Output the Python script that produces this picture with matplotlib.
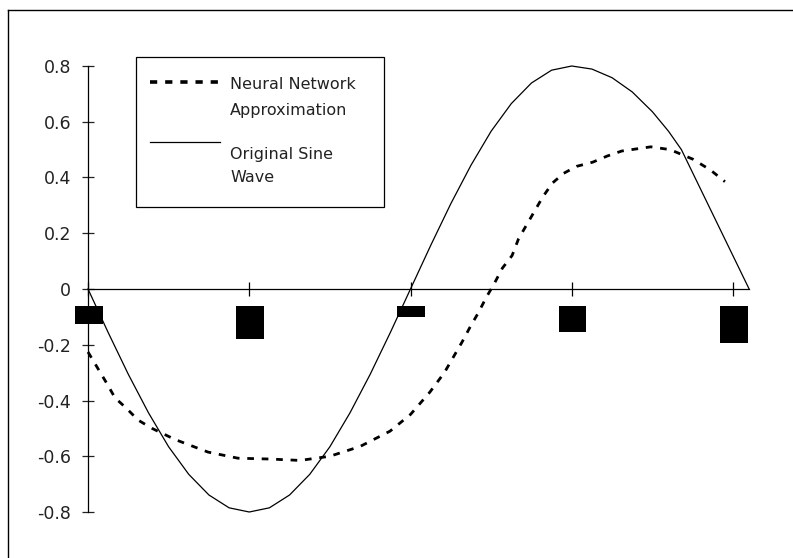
import numpy as np
import matplotlib
matplotlib.use("Agg")
from matplotlib import pyplot as plt
from matplotlib.lines import Line2D
from matplotlib.patches import Rectangle

# original sine wave (x in tick units, 4 ticks = one period)
sine_x = [0, 0.125, 0.25, 0.375, 0.5, 0.625, 0.75, 0.875, 1.0, 1.125, 1.25,
          1.375, 1.5, 1.625, 1.75, 1.875, 2.0, 2.125, 2.25, 2.375, 2.5,
          2.625, 2.75, 2.875, 3.0, 3.125, 3.25, 3.375, 3.5, 3.6, 3.68, 4.1]
sine_y = [0, -0.156, -0.306, -0.444, -0.566, -0.665, -0.739, -0.785, -0.80,
          -0.785, -0.739, -0.665, -0.566, -0.444, -0.306, -0.156, 0.0, 0.156,
          0.306, 0.444, 0.566, 0.665, 0.739, 0.785, 0.80, 0.789, 0.758,
          0.707, 0.636, 0.566, 0.50, 0.0]

# neural network approximation
nn_x = [0, 0.056, 0.118, 0.167, 0.242, 0.31, 0.397, 0.54, 0.744, 0.93,
        1.129, 1.315, 1.50, 1.687, 1.873, 2.0, 2.12, 2.21, 2.32, 2.37,
        2.42, 2.47, 2.52, 2.57, 2.63, 2.67, 2.72, 2.77, 2.82, 2.88, 2.95,
        3.03, 3.13, 3.22, 3.31, 3.49, 3.61, 3.75, 3.86, 3.95]
nn_y = [-0.226, -0.28, -0.34, -0.39, -0.43, -0.47, -0.50, -0.54, -0.585,
        -0.607, -0.61, -0.615, -0.60, -0.565, -0.51, -0.45, -0.37, -0.30,
        -0.19, -0.136, -0.086, -0.03, 0.02, 0.075, 0.12, 0.18, 0.23, 0.28,
        0.33, 0.38, 0.415, 0.44, 0.455, 0.477, 0.495, 0.51, 0.50, 0.466,
        0.427, 0.385]

# category ticks and the black blocks where their labels should be
x_ticks = [0, 1, 2, 3, 4]
box_top = -0.061
box_bottom = [-0.126, -0.179, -0.10, -0.154, -0.194]

y_ticks = [0.8, 0.6, 0.4, 0.2, 0, -0.2, -0.4, -0.6, -0.8]
y_labels = ["0.8", "0.6", "0.4", "0.2", "0", "-0.2", "-0.4", "-0.6", "-0.8"]

nn_label = ["Neural Network", "Approximation"]
sine_label = ["Original Sine", "Wave"]

plt.rcParams['font.family'] = ['DejaVu Sans']

W, H = 793, 558
fig = plt.figure(figsize=(W / 100, H / 100), dpi=100)
ax = fig.add_axes([0, 0, 1, 1])

# pixel layout: x=0 at px 88, 161.25 px per unit; y=0 at px 289, 278.75 px per unit
ax.set_xlim(-88 / 161.25, (W - 88) / 161.25)
ax.set_ylim(-(H - 289) / 278.75, 289 / 278.75)
ax.patch.set_alpha(0)

nn_style = dict(color="black", lw=2.0, linestyle=(0, (2.4, 2.8)))
sine_style = dict(color="black", lw=0.9)
ax.plot(nn_x, nn_y, **nn_style)
ax.plot(sine_x, sine_y, **sine_style)

heights = [b - box_top for b in box_bottom]
ax.bar([x + 0.005 for x in x_ticks], heights, bottom=box_top, width=0.172,
       color="black")

for s in ["top", "right"]:
    ax.spines[s].set_visible(False)
ax.spines["left"].set_position(("data", 0))
ax.spines["bottom"].set_position(("data", 0))
ax.spines["left"].set_bounds(-0.8, 0.8)
ax.spines["bottom"].set_bounds(0, 4.1)
ax.spines["left"].set_linewidth(0.9)
ax.spines["bottom"].set_linewidth(0.9)

ax.set_yticks(y_ticks)
ax.set_yticklabels(y_labels)
ax.set_xticks(x_ticks)
ax.set_xticklabels([])
ax.tick_params(axis="y", direction="inout", length=8, width=0.9,
               labelsize=12.5, pad=8, colors="#222222")
ax.tick_params(axis="x", direction="inout", length=10, width=0.9)


def fx(px):
    return px / W


def fy(py):
    return 1 - py / H


# legend box drawn by hand to match the old layout
fig.add_artist(Rectangle((fx(136), fy(207)), fx(248), 150 / H, fill=False,
                         edgecolor="black", lw=0.9, transform=fig.transFigure))
fig.add_artist(Line2D([fx(150), fx(220)], [fy(82), fy(82)],
                      transform=fig.transFigure, color="black", lw=2.6,
                      linestyle=(0, (2.0, 2.2))))
fig.add_artist(Line2D([fx(150), fx(220)], [fy(142), fy(142)],
                      transform=fig.transFigure, **sine_style))
for txt, py in zip(nn_label + sine_label, [85, 111, 155, 178]):
    fig.text(fx(230), fy(py), txt, fontsize=11.5, va="center", ha="left",
             color="#222222")

# outer chart frame (only top and left edges visible)
fig.add_artist(Line2D([fx(8), 1], [fy(10), fy(10)], color="black",
                      lw=1.0, transform=fig.transFigure))
fig.add_artist(Line2D([fx(8), fx(8)], [0, fy(10)], color="black",
                      lw=1.0, transform=fig.transFigure))

fig.savefig("out.png", dpi=100)
